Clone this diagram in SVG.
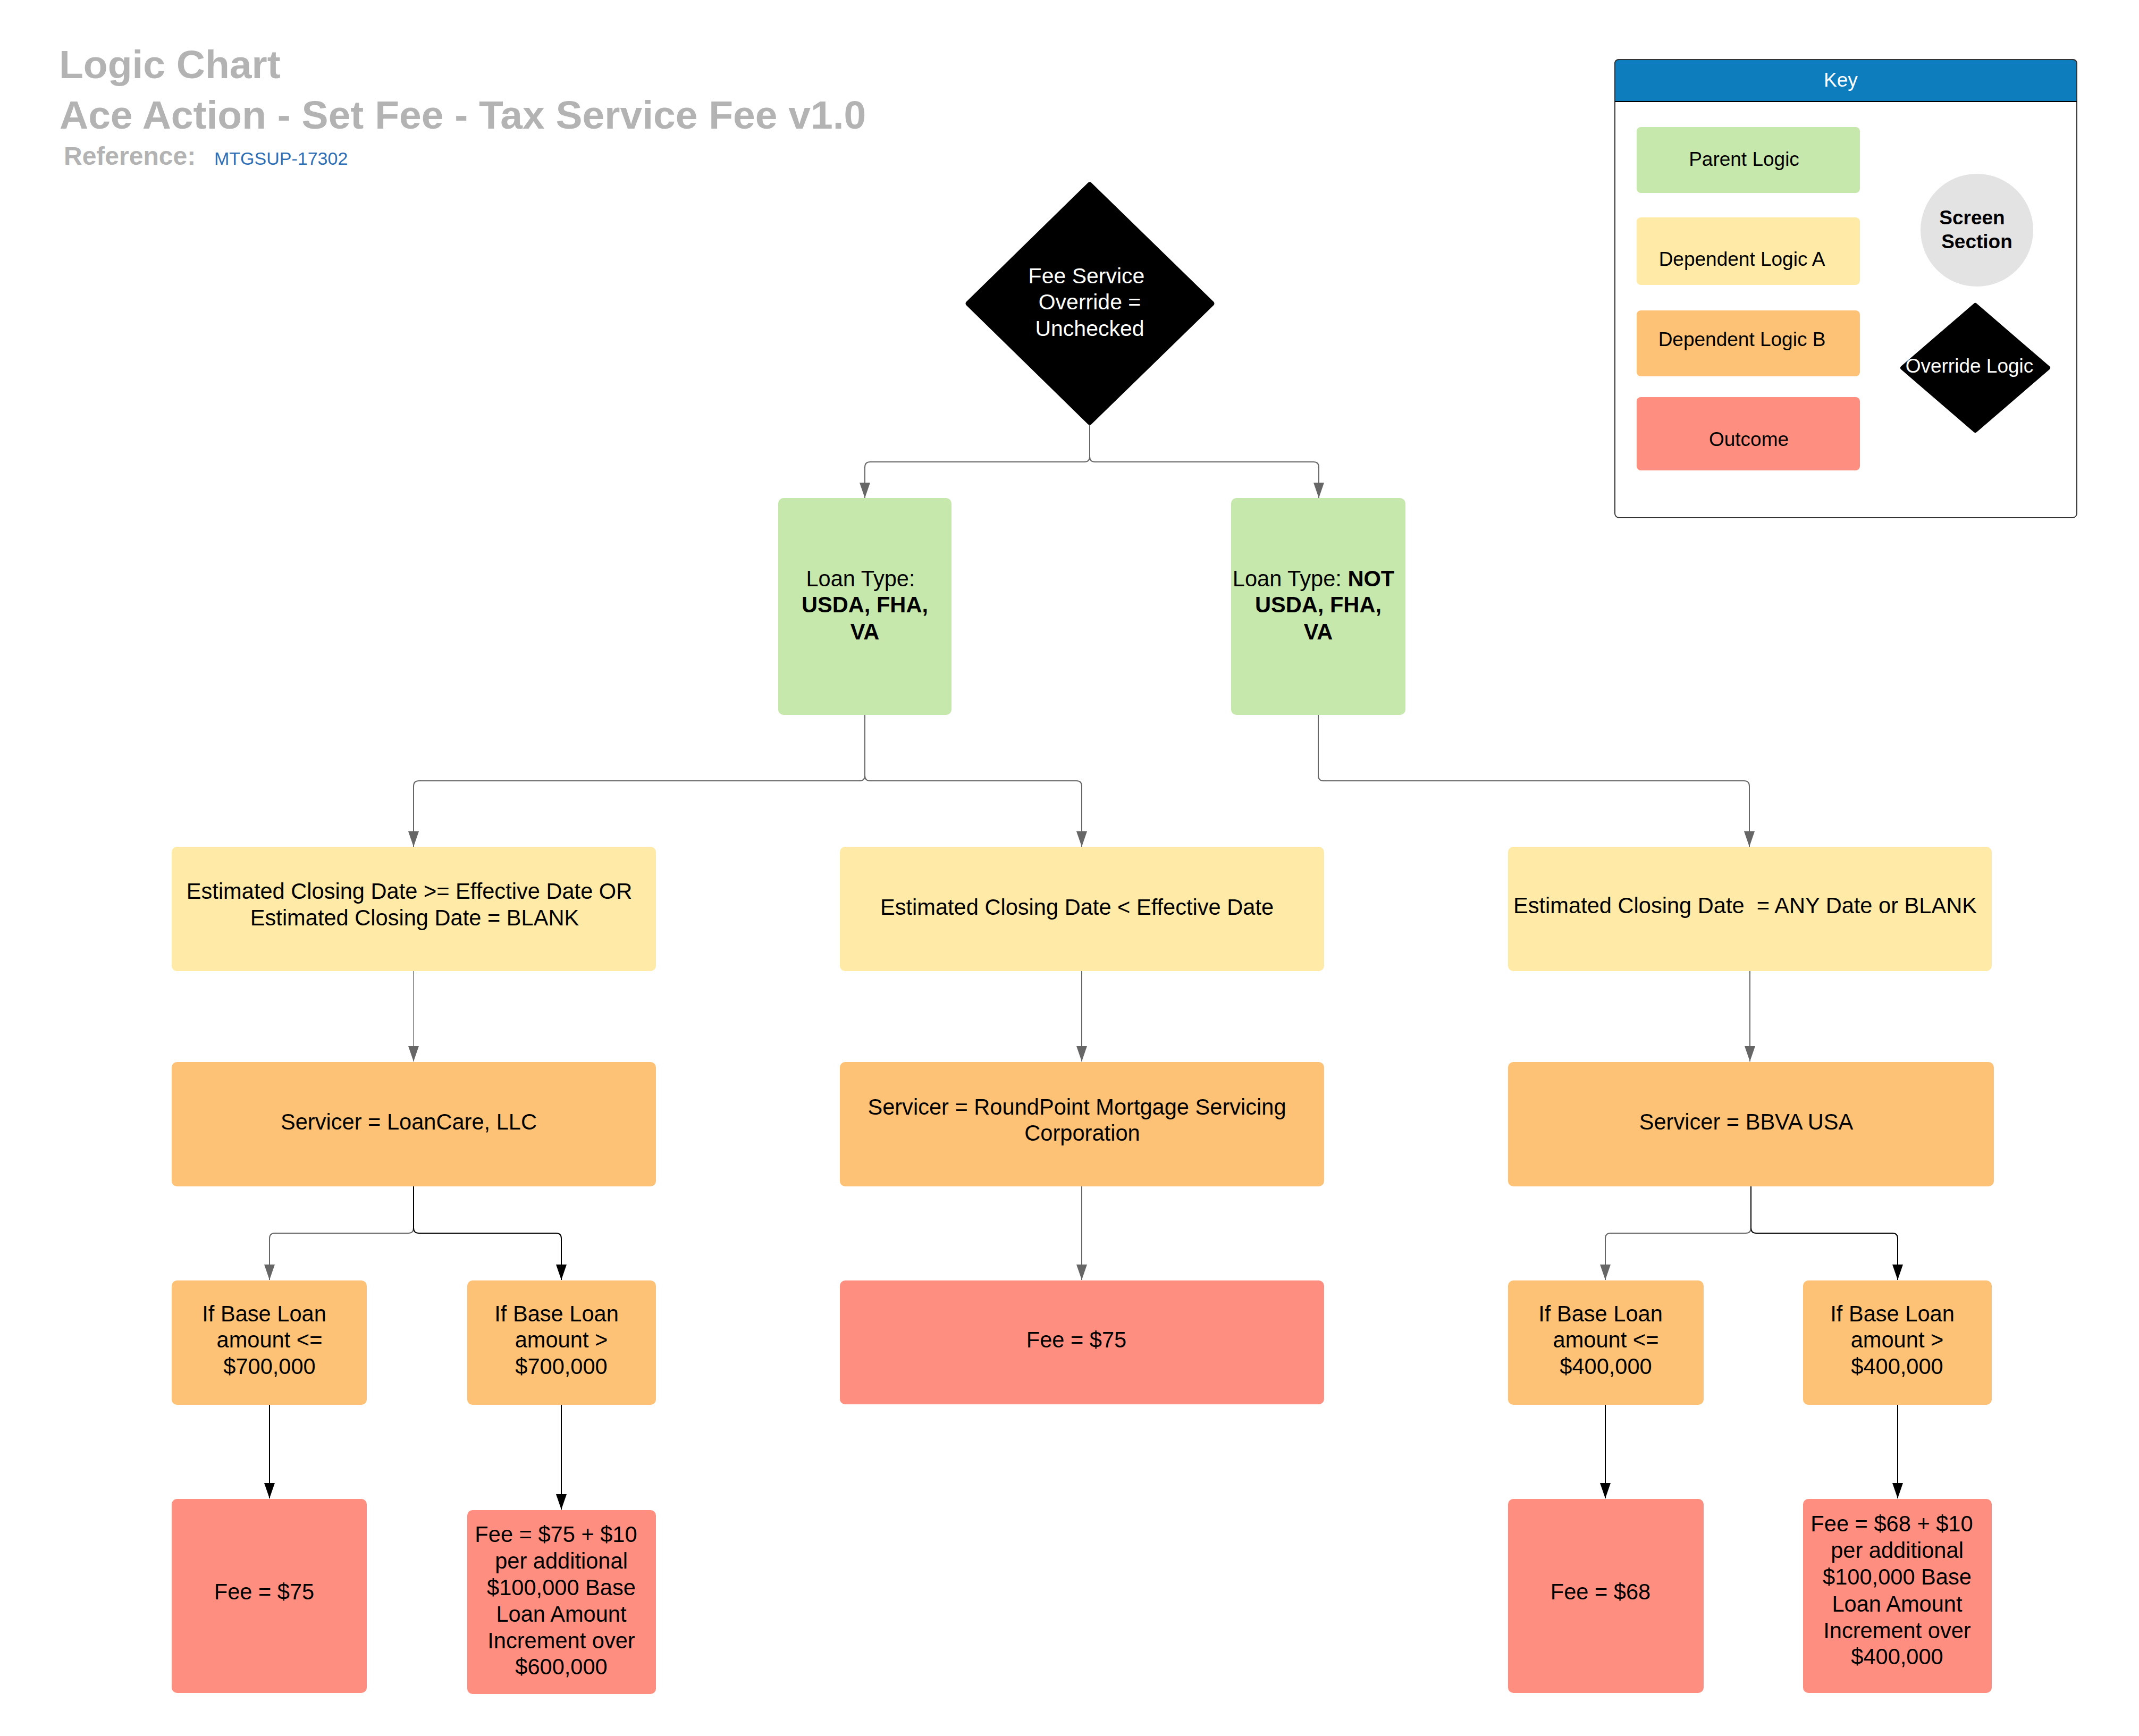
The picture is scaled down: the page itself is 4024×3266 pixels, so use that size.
<svg xmlns="http://www.w3.org/2000/svg" width="4024" height="3266" viewBox="0 0 4024 3266">
  <style>
    text { font-family: "Liberation Sans", Arial, sans-serif; }
    .t { font-size: 41.6px; fill: #000; text-anchor: middle; }
    .tw { font-size: 41px; fill: #fff; text-anchor: middle; }
    .k { font-size: 37px; fill: #000; text-anchor: middle; }
    .b { font-weight: bold; }
    .pre { white-space: pre; }
    .parent { fill: #c7e8ac; }
    .depA { fill: #ffeaa7; }
    .depB { fill: #fdc276; }
    .outcome { fill: #fe8f80; }
    .conn { fill: none; stroke: #666; stroke-width: 2; }
    .connThin { fill: none; stroke: #777; stroke-width: 1.5; }
    .connDark { fill: none; stroke: #000; stroke-width: 2; }
    .title { font-weight: bold; fill: #b3b3b3; }
  </style>
  <defs>
    <marker id="arrowGray" markerUnits="userSpaceOnUse" markerWidth="29" markerHeight="20" refX="29" refY="10" orient="auto">
      <path d="M0,0 L29,10 L0,20 z" fill="#666"/>
    </marker>
    <marker id="arrowBlack" markerUnits="userSpaceOnUse" markerWidth="29" markerHeight="20" refX="29" refY="10" orient="auto">
      <path d="M0,0 L29,10 L0,20 z" fill="#000"/>
    </marker>
  </defs>

  <rect width="4024" height="3266" fill="#fff"/>

  <!-- Heading -->
  <g id="heading">
    <text class="title" x="111" y="147" font-size="75">Logic Chart</text>
    <text class="title" x="112" y="242" font-size="75">Ace Action - Set Fee - Tax Service Fee v1.0</text>
    <text class="title" x="120" y="310" font-size="48">Reference:</text>
    <text x="403" y="310" font-size="34" fill="#2e6eb5">MTGSUP-17302</text>
  </g>

  <!-- Legend -->
  <g id="key">
    <rect x="3038" y="112" width="869" height="862" rx="8" fill="#fff" stroke="#333" stroke-width="2"/>
    <path d="M3038,191 V120 Q3038,112 3046,112 H3899 Q3907,112 3907,120 V191 Z" fill="#0e7dbe" stroke="#333" stroke-width="2"/>
    <line x1="3038" y1="191" x2="3907" y2="191" stroke="#000" stroke-width="2"/>
    <text x="3463" y="163" font-size="37" fill="#fff" text-anchor="middle">Key</text>
    <rect class="parent" x="3079" y="239" width="420" height="124" rx="8"/>
    <text class="k" x="3281" y="312">Parent Logic</text>
    <rect class="depA" x="3079" y="409" width="420" height="127" rx="8"/>
    <text class="k" x="3277" y="500">Dependent Logic A</text>
    <rect class="depB" x="3079" y="584" width="420" height="124" rx="8"/>
    <text class="k" x="3277" y="651">Dependent Logic B</text>
    <rect class="outcome" x="3079" y="747" width="420" height="138" rx="8"/>
    <text class="k" x="3290" y="839">Outcome</text>
    <circle cx="3719" cy="433" r="106" fill="#e3e3e3"/>
    <text class="k b" x="3710" y="422">Screen</text>
    <text class="k b" x="3719" y="467">Section</text>
    <polygon points="3716,574 3853,692 3716,810 3579,692" fill="#000" stroke="#000" stroke-width="8" stroke-linejoin="round"/>
    <text x="3705" y="701" font-size="37" fill="#fff" text-anchor="middle">Override Logic</text>
  </g>

  <!-- Connectors -->
  <g id="connectors">
    <path class="conn" d="M2050,800 V859 Q2050,869 2040,869 H1637 Q1627,869 1627,879 V937" marker-end="url(#arrowGray)"/>
    <path class="conn" d="M2050,800 V859 Q2050,869 2060,869 H2471 Q2481,869 2481,879 V937" marker-end="url(#arrowGray)"/>
    <path class="conn" d="M1627,1345 V1459 Q1627,1469 1617,1469 H788 Q778,1469 778,1479 V1593" marker-end="url(#arrowGray)"/>
    <path class="conn" d="M1627,1345 V1459 Q1627,1469 1637,1469 H2025 Q2035,1469 2035,1479 V1593" marker-end="url(#arrowGray)"/>
    <path class="conn" d="M2480,1345 V1459 Q2480,1469 2490,1469 H3281 Q3291,1469 3291,1479 V1593" marker-end="url(#arrowGray)"/>
    <path class="connThin" d="M778,1827 V1997" marker-end="url(#arrowGray)"/>
    <path class="conn" d="M2035,1827 V1997" marker-end="url(#arrowGray)"/>
    <path class="conn" d="M3292,1827 V1997" marker-end="url(#arrowGray)"/>
    <path class="conn" d="M778,2310 Q778,2320 768,2320 H517 Q507,2320 507,2330 V2408" marker-end="url(#arrowGray)"/>
    <path class="connDark" d="M778,2232 V2310 Q778,2320 788,2320 H1046 Q1056,2320 1056,2330 V2408" marker-end="url(#arrowBlack)"/>
    <path class="conn" d="M2035,2232 V2408" marker-end="url(#arrowGray)"/>
    <path class="conn" d="M3294,2310 Q3294,2320 3284,2320 H3030 Q3020,2320 3020,2330 V2408" marker-end="url(#arrowGray)"/>
    <path class="connDark" d="M3294,2232 V2310 Q3294,2320 3304,2320 H3560 Q3570,2320 3570,2330 V2408" marker-end="url(#arrowBlack)"/>
    <path class="connDark" d="M507,2643 V2819" marker-end="url(#arrowBlack)"/>
    <path class="connDark" d="M1056,2643 V2840" marker-end="url(#arrowBlack)"/>
    <path class="connDark" d="M3020,2643 V2819" marker-end="url(#arrowBlack)"/>
    <path class="connDark" d="M3570,2643 V2819" marker-end="url(#arrowBlack)"/>
  </g>

  <!-- Override decision -->
  <g id="fee-service-override">
    <polygon points="2050,347 2280,571 2050,795 1821,571" fill="#000" stroke="#000" stroke-width="9" stroke-linejoin="round"/>
    <text class="tw" x="2044" y="533">Fee Service</text>
    <text class="tw" x="2050" y="582">Override =</text>
    <text class="tw" x="2050" y="632">Unchecked</text>
  </g>

  <!-- Loan type -->
  <g id="loan-type-gov">
    <rect class="parent" x="1464" y="937" width="326" height="408" rx="10"/>
    <text class="t" x="1619" y="1103">Loan Type:</text>
    <text class="t b" x="1627" y="1152">USDA, FHA,</text>
    <text class="t b" x="1627" y="1203">VA</text>
  </g>
  <g id="loan-type-other">
    <rect class="parent" x="2316" y="937" width="328" height="408" rx="10"/>
    <text class="t" x="2471" y="1103">Loan Type: <tspan class="b">NOT</tspan></text>
    <text class="t b" x="2480" y="1152">USDA, FHA,</text>
    <text class="t b" x="2480" y="1203">VA</text>
  </g>

  <!-- Closing date -->
  <g id="closing-on-or-after">
    <rect class="depA" x="323" y="1593" width="911" height="234" rx="10"/>
    <text class="t" x="770" y="1691">Estimated Closing Date &gt;= Effective Date OR</text>
    <text class="t" x="780" y="1741">Estimated Closing Date = BLANK</text>
  </g>
  <g id="closing-before">
    <rect class="depA" x="1580" y="1593" width="911" height="234" rx="10"/>
    <text class="t" x="2026" y="1721">Estimated Closing Date &lt; Effective Date</text>
  </g>
  <g id="closing-any">
    <rect class="depA" x="2837" y="1593" width="910" height="234" rx="10"/>
    <text class="t pre" x="3283" y="1718">Estimated Closing Date  = ANY Date or BLANK</text>
  </g>

  <!-- Servicers -->
  <g id="servicer-loancare">
    <rect class="depB" x="323" y="1998" width="911" height="234" rx="10"/>
    <text class="t" x="769" y="2125">Servicer = LoanCare, LLC</text>
  </g>
  <g id="servicer-roundpoint">
    <rect class="depB" x="1580" y="1998" width="911" height="234" rx="10"/>
    <text class="t" x="2026" y="2097">Servicer = RoundPoint Mortgage Servicing</text>
    <text class="t" x="2036" y="2146">Corporation</text>
  </g>
  <g id="servicer-bbva">
    <rect class="depB" x="2837" y="1998" width="914" height="234" rx="10"/>
    <text class="t" x="3285" y="2125">Servicer = BBVA USA</text>
  </g>

  <!-- Base loan amount checks -->
  <g id="loancare-le-700k">
    <rect class="depB" x="323" y="2409" width="367" height="234" rx="10"/>
    <text class="t" x="497" y="2486">If Base Loan</text>
    <text class="t" x="507" y="2535">amount &lt;=</text>
    <text class="t" x="507" y="2585">$700,000</text>
  </g>
  <g id="loancare-gt-700k">
    <rect class="depB" x="879" y="2409" width="355" height="234" rx="10"/>
    <text class="t" x="1047" y="2486">If Base Loan</text>
    <text class="t" x="1056" y="2535">amount &gt;</text>
    <text class="t" x="1056" y="2585">$700,000</text>
  </g>
  <g id="bbva-le-400k">
    <rect class="depB" x="2837" y="2409" width="368" height="234" rx="10"/>
    <text class="t" x="3011" y="2486">If Base Loan</text>
    <text class="t" x="3021" y="2535">amount &lt;=</text>
    <text class="t" x="3021" y="2585">$400,000</text>
  </g>
  <g id="bbva-gt-400k">
    <rect class="depB" x="3392" y="2409" width="355" height="234" rx="10"/>
    <text class="t" x="3560" y="2486">If Base Loan</text>
    <text class="t" x="3569" y="2535">amount &gt;</text>
    <text class="t" x="3569" y="2585">$400,000</text>
  </g>

  <!-- Fees -->
  <g id="fee-75-loancare">
    <rect class="outcome" x="323" y="2820" width="367" height="365" rx="10"/>
    <text class="t" x="497" y="3009">Fee = $75</text>
  </g>
  <g id="fee-75-plus-loancare">
    <rect class="outcome" x="879" y="2841" width="355" height="346" rx="10"/>
    <text class="t" x="1046" y="2901">Fee = $75 + $10</text>
    <text class="t" x="1056" y="2951">per additional</text>
    <text class="t" x="1056" y="3001">$100,000 Base</text>
    <text class="t" x="1056" y="3051">Loan Amount</text>
    <text class="t" x="1056" y="3101">Increment over</text>
    <text class="t" x="1056" y="3150">$600,000</text>
  </g>
  <g id="fee-75-roundpoint">
    <rect class="outcome" x="1580" y="2409" width="911" height="233" rx="10"/>
    <text class="t" x="2025" y="2535">Fee = $75</text>
  </g>
  <g id="fee-68-bbva">
    <rect class="outcome" x="2837" y="2820" width="368" height="365" rx="10"/>
    <text class="t" x="3011" y="3009">Fee = $68</text>
  </g>
  <g id="fee-68-plus-bbva">
    <rect class="outcome" x="3392" y="2820" width="355" height="365" rx="10"/>
    <text class="t" x="3559" y="2881">Fee = $68 + $10</text>
    <text class="t" x="3569" y="2931">per additional</text>
    <text class="t" x="3569" y="2981">$100,000 Base</text>
    <text class="t" x="3569" y="3032">Loan Amount</text>
    <text class="t" x="3569" y="3082">Increment over</text>
    <text class="t" x="3569" y="3131">$400,000</text>
  </g>
</svg>
